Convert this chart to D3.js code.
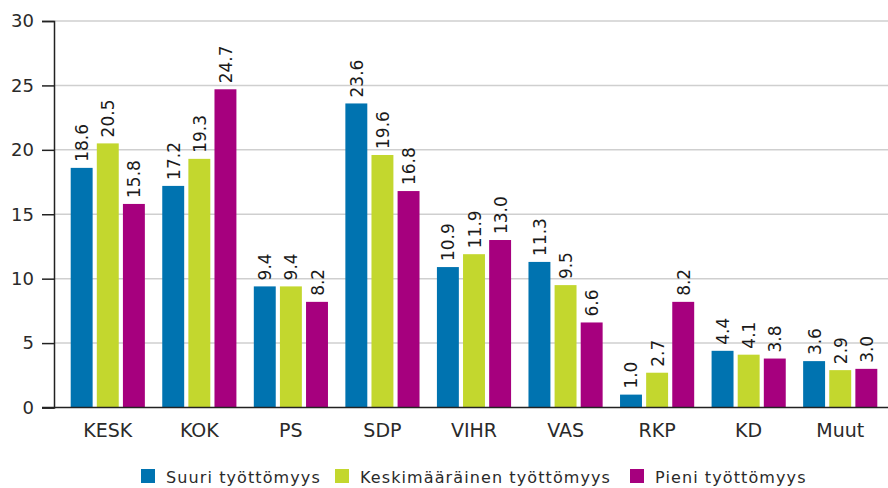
<!DOCTYPE html>
<html>
<head>
<meta charset="utf-8">
<script src="https://cdn.jsdelivr.net/npm/d3@7"></script>
<style>
  body { margin: 0; background: #fff; }
  svg { font-family: "DejaVu Sans", Verdana, sans-serif; }
</style>
</head>
<body>
<svg width="888" height="488"></svg>
<script>
// data
const parties = ["KESK", "KOK", "PS", "SDP", "VIHR", "VAS", "RKP", "KD", "Muut"];
const seriesNames = ["Suuri työttömyys", "Keskimääräinen työttömyys", "Pieni työttömyys"];
const suuri = [18.6, 17.2, 9.4, 23.6, 10.9, 11.3, 1.0, 4.4, 3.6];
const keski = [20.5, 19.3, 9.4, 19.6, 11.9, 9.5, 2.7, 4.1, 2.9];
const pieni = [15.8, 24.7, 8.2, 16.8, 13.0, 6.6, 8.2, 3.8, 3.0];
const yTicks = [0, 5, 10, 15, 20, 25, 30];
const colors = ["#0073b0", "#c3d72e", "#a6007e"];

const svg = d3.select("svg");
const plotLeft = 54, plotRight = 888, plotTop = 21, plotBottom = 407.5;

const y = d3.scaleLinear().domain([0, 30]).range([plotBottom, plotTop]);

const x0 = d3.scaleBand()
  .domain(parties)
  .range([62, 886])
  .paddingInner(0.19)
  .paddingOuter(0.095);

const x1 = d3.scaleBand()
  .domain(seriesNames)
  .range([0, x0.bandwidth()])
  .paddingInner(0.16);

const color = d3.scaleOrdinal().domain(seriesNames).range(colors);

// gridlines
svg.append("g")
  .selectAll("line")
  .data(yTicks.filter(d => d > 0))
  .enter()
  .append("line")
  .attr("x1", plotLeft)
  .attr("x2", plotRight)
  .attr("y1", d => y(d))
  .attr("y2", d => y(d))
  .style("stroke", "#cfcfcf")
  .style("stroke-width", 1.5);

// y axis
const yAxis = svg.append("g")
  .attr("transform", `translate(${plotLeft},0)`)
  .call(d3.axisLeft(y).tickValues(yTicks).tickSize(12).tickPadding(8));
yAxis.select(".domain").attr("stroke", "#222").attr("stroke-width", 1.5);
yAxis.selectAll(".tick line").attr("stroke", "#222").attr("stroke-width", 1.5);
yAxis.selectAll("text")
  .style("font-size", "18px")
  .style("fill", "#2a2a2a")
  .style("font-family", "DejaVu Sans");

// bars
const rows = parties.map((p, i) => ({ party: p, values: [suuri[i], keski[i], pieni[i]] }));

const groups = svg.append("g")
  .selectAll("g")
  .data(rows)
  .enter()
  .append("g")
  .attr("transform", d => `translate(${x0(d.party)},0)`);

groups.selectAll("rect")
  .data(d => d.values.map((v, j) => ({ name: seriesNames[j], value: v })))
  .enter()
  .append("rect")
  .attr("x", d => x1(d.name))
  .attr("y", d => y(d.value))
  .attr("width", x1.bandwidth())
  .attr("height", d => plotBottom - y(d.value))
  .style("fill", d => color(d.name));

// value labels, rotated
groups.selectAll("text")
  .data(d => d.values.map((v, j) => ({ name: seriesNames[j], value: v })))
  .enter()
  .append("text")
  .attr("transform", d => `translate(${x1(d.name) + x1.bandwidth() / 2 + 6.5},${y(d.value) - 6}) rotate(-90)`)
  .style("font-size", "17px")
  .style("fill", "#1a1a1a")
  .text(d => d3.format(".1f")(d.value));

// x axis
const xAxis = svg.append("g")
  .attr("transform", `translate(0,${plotBottom})`)
  .call(d3.axisBottom(x0).tickSize(0).tickPadding(16));
xAxis.select(".domain").attr("stroke", "#222").attr("stroke-width", 1.5)
  .attr("d", `M${plotLeft - 12},0H${plotRight}`);
xAxis.selectAll("text")
  .style("font-size", "19px")
  .style("fill", "#2a2a2a")
  .style("font-family", "DejaVu Sans");

// legend
const legendX = [141, 335, 630];
const legend = svg.append("g")
  .selectAll("g")
  .data(seriesNames)
  .enter()
  .append("g")
  .attr("transform", (d, i) => `translate(${legendX[i]},469)`);

legend.append("rect")
  .attr("width", 14)
  .attr("height", 14)
  .style("fill", d => color(d));

legend.append("text")
  .attr("x", 25)
  .attr("y", 13.5)
  .style("font-size", "16px")
  .style("letter-spacing", "1.1px")
  .style("fill", "#2a2a2a")
  .text(d => d);
</script>
</body>
</html>
